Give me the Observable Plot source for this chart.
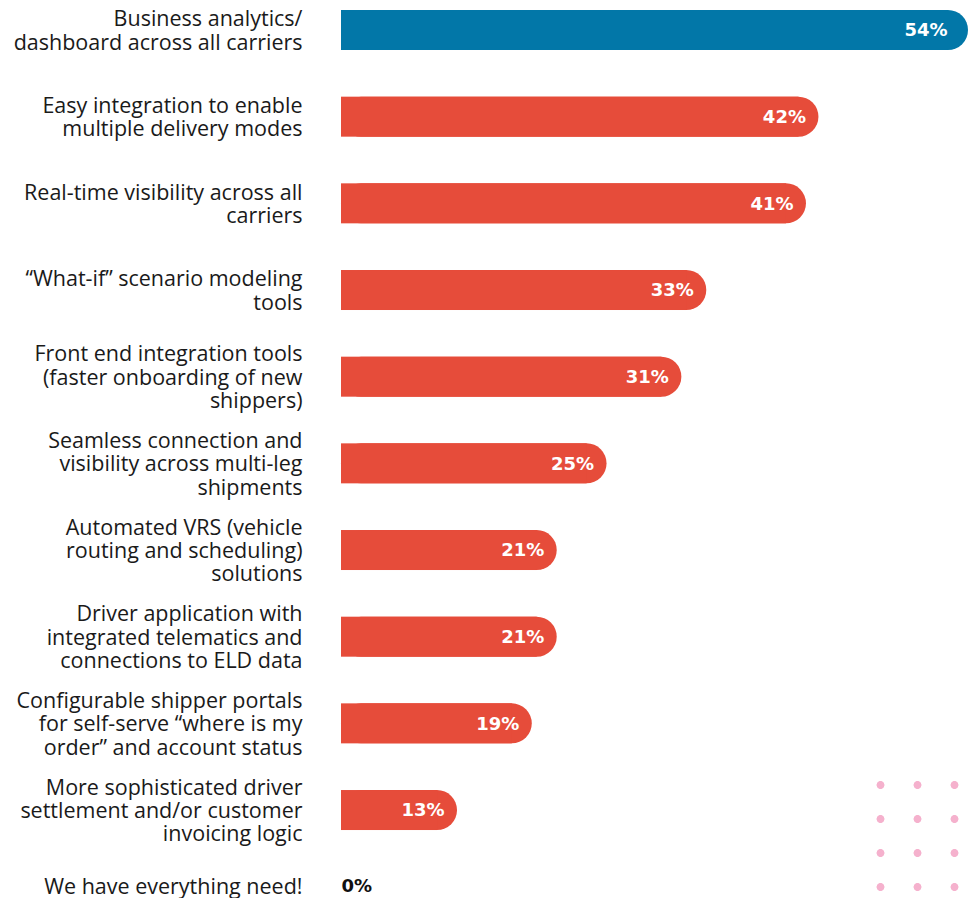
<!DOCTYPE html>
<html>
<head>
<meta charset="utf-8">
<script src="https://cdn.jsdelivr.net/npm/d3@7"></script>
<script src="https://cdn.jsdelivr.net/npm/@observablehq/plot@0.6"></script>
<style>
  html, body { margin: 0; padding: 0; background: #fff; overflow: hidden; }
  #wrap { position: relative; width: 969px; height: 898px; }
  #chart svg { display: block; }
  .dots {
    position: absolute; left: 861.5px; top: 768px; width: 111px; height: 136px;
    background-image: radial-gradient(circle at center, #f5b1cd 0, #f5b1cd 3.6px, rgba(245,177,205,0) 4.3px);
    background-size: 37px 34px;
    pointer-events: none;
  }
</style>
</head>
<body>
<div id="wrap">
  <div id="chart"></div>
  <div class="dots"></div>
</div>
<script>
// Survey answers: desired capabilities, share of respondents (%)
const categories = [
  "Business analytics/\ndashboard across all carriers",
  "Easy integration to enable\nmultiple delivery modes",
  "Real-time visibility across all\ncarriers",
  "\u201cWhat-if\u201d scenario modeling\ntools",
  "Front end integration tools\n(faster onboarding of new\nshippers)",
  "Seamless connection and\nvisibility across multi-leg\nshipments",
  "Automated VRS (vehicle\nrouting and scheduling)\nsolutions",
  "Driver application with\nintegrated telematics and\nconnections to ELD data",
  "Configurable shipper portals\nfor self-serve \u201cwhere is my\norder\u201d and account status",
  "More sophisticated driver\nsettlement and/or customer\ninvoicing logic",
  "We have everything need!"
];
const values = [54, 42, 41, 33, 31, 25, 21, 21, 19, 13, 0];
const highlight = [true, false, false, false, false, false, false, false, false, false, false];

const rows = categories.map((label, i) => ({label, value: values[i], top: highlight[i], last: i === categories.length - 1}));
const bars = rows.filter(d => d.value > 0);

const BLUE = "#0277a8";
const RED = "#e64c3a";

// band layout: 40px bars on an ~86.7px row step
const step = 86.67;
const pi = 0.5385;
const r0 = 10 - step * pi / 2;

const labelFont = {fontSize: 21.5, fontFamily: "Open Sans", fill: "#1a1a1a", lineAnchor: "middle", lineHeight: 1.09};
const valueFont = {fontSize: 18, fontWeight: 700, fontFamily: "DejaVu Sans"};

const chart = Plot.plot({
  width: 969,
  height: 898,
  marginLeft: 295,
  marginRight: 1,
  marginTop: 0,
  marginBottom: 0,
  x: {domain: [0, 54], axis: null},
  y: {
    type: "band",
    domain: categories,
    range: [r0, r0 + step * categories.length],
    paddingInner: pi,
    paddingOuter: pi / 2,
    round: false,
    axis: null
  },
  marks: [
    // rounded bar end
    Plot.barX(bars, {x1: 0, x2: "value", y: "label", insetLeft: 46, rx: 20, fill: d => d.top ? BLUE : RED}),
    // square left part of each bar
    Plot.barX(bars, {x1: 0, x2: "value", y: "label", insetLeft: 46, insetRight: 20, fill: d => d.top ? BLUE : RED}),
    // category labels
    Plot.text(rows.filter(d => !d.last), {
      y: "label", text: "label", frameAnchor: "left", textAnchor: "end", dx: 7, ...labelFont
    }),
    Plot.text(rows.filter(d => d.last), {
      y: "label", text: "label", frameAnchor: "left", textAnchor: "end", dx: 7, dy: -11, ...labelFont
    }),
    // value labels inside the bars
    Plot.text(bars.filter(d => d.top), {
      x: "value", y: "label", text: d => d.value + "%", textAnchor: "end", dx: -21, fill: "#ffffff", ...valueFont
    }),
    Plot.text(bars.filter(d => !d.top), {
      x: "value", y: "label", text: d => d.value + "%", textAnchor: "end", dx: -13, fill: "#ffffff", ...valueFont
    }),
    // zero value label
    Plot.text(rows.filter(d => d.value === 0), {
      x: "value", y: "label", text: d => d.value + "%", textAnchor: "start", dx: 46, dy: -11, fill: "#111111", ...valueFont
    })
  ]
});
document.getElementById("chart").appendChild(chart);
</script>
</body>
</html>
